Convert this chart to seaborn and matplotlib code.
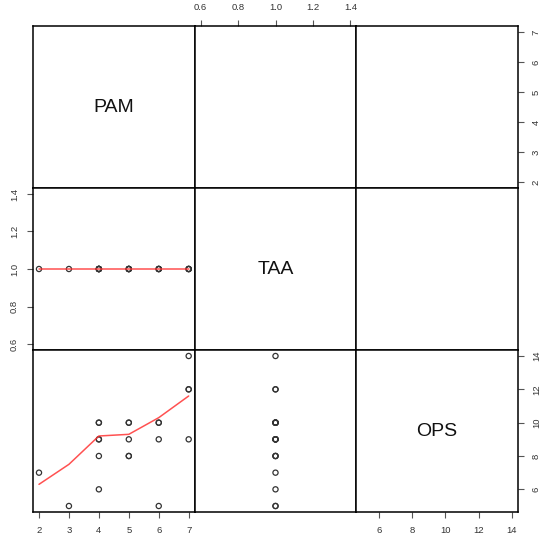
import matplotlib
matplotlib.use("Agg")
import matplotlib.pyplot as plt
import seaborn as sns
import pandas as pd
import numpy as np

sns.set_style("white")
plt.rcParams['font.family'] = ['Liberation Sans', 'DejaVu Sans']

# Data
var_names = ["PAM", "TAA", "OPS"]
PAM = [2, 3, 4, 4, 4, 4, 4, 4, 5, 5, 5, 5, 5, 6, 6, 6, 6, 7, 7, 7, 7]
TAA = [1.0] * 21
OPS = [7, 5, 10, 10, 9, 9, 8, 6, 10, 10, 9, 8, 8, 10, 10, 9, 5, 14, 12, 12, 9]

smooth_pam = [2, 3, 4, 5, 6, 7]
smooth_ops = [6.3, 7.5, 9.2, 9.3, 10.3, 11.6]
smooth_taa = [1.0, 1.0, 1.0, 1.0, 1.0, 1.0]

pam_ticks = [2, 3, 4, 5, 6, 7]
taa_ticks = [0.6, 0.8, 1.0, 1.2, 1.4]
ops_ticks = [6, 8, 10, 12, 14]
tick_labels = {
    "PAM": ["2", "3", "4", "5", "6", "7"],
    "TAA": ["0.6", "0.8", "1.0", "1.2", "1.4"],
    "OPS": ["6", "8", "10", "12", "14"],
}
ticks = {"PAM": pam_ticks, "TAA": taa_ticks, "OPS": ops_ticks}

df = pd.DataFrame({"PAM": PAM, "TAA": TAA, "OPS": OPS})
smooth = pd.DataFrame({"PAM": smooth_pam, "OPS": smooth_ops, "TAA": smooth_taa})

limits = {"PAM": (1.8, 7.2), "TAA": (0.568, 1.432), "OPS": (4.64, 14.36)}

W, H = 546, 541
fig = plt.figure(figsize=(W / 100, H / 100), dpi=100)
fig.patch.set_facecolor("white")

left, right, top, bottom = 33, 518, 26, 512
pw = (right - left) / 3
ph = (bottom - top) / 3

axes = {}
for r in range(3):
    for c in range(3):
        x0 = (left + c * pw) / W
        y0 = 1 - (top + (r + 1) * ph) / H
        ax = fig.add_axes([x0, y0, pw / W, ph / H])
        axes[(r, c)] = ax
        xv, yv = var_names[c], var_names[r]
        ax.set_xlim(*limits[xv])
        ax.set_ylim(*limits[yv])
        ax.set_xticks([])
        ax.set_yticks([])
        for s in ax.spines.values():
            s.set_visible(True)
            s.set_color("black")
            s.set_linewidth(1.1)
        ax.set_facecolor("white")
        if r == c:
            ax.text(0.5, 0.5, xv, transform=ax.transAxes, ha="center", va="center",
                    fontsize=14, color="#111111")
        elif r > c:
            sns.scatterplot(data=df, x=xv, y=yv, ax=ax, marker="o", s=14,
                            facecolor="none", edgecolor="#333333", linewidth=0.9,
                            legend=False)
            if xv != "TAA":
                sns.lineplot(data=smooth, x=xv, y=yv, ax=ax, color="#ff3333",
                             alpha=0.85, linewidth=1.1, legend=False, estimator=None)
        ax.set_xlabel("")
        ax.set_ylabel("")


def style_axis(ax, which, var):
    tk = ticks[var]
    lb = tick_labels[var]
    kw = dict(length=4, width=0.8, color="#555555", labelsize=6.8,
              labelcolor="#333333", pad=6, direction="out")
    if which in ("bottom", "top"):
        ax.set_xticks(tk)
        ax.set_xticklabels(lb)
        ax.tick_params(axis="x", bottom=(which == "bottom"), labelbottom=(which == "bottom"),
                       top=(which == "top"), labeltop=(which == "top"), **kw)
    else:
        ax.set_yticks(tk)
        ax.set_yticklabels(lb, rotation=90, va="center")
        ax.tick_params(axis="y", left=(which == "left"), labelleft=(which == "left"),
                       right=(which == "right"), labelright=(which == "right"), **kw)


style_axis(axes[(2, 0)], "bottom", "PAM")
style_axis(axes[(2, 2)], "bottom", "OPS")
style_axis(axes[(0, 1)], "top", "TAA")
style_axis(axes[(1, 0)], "left", "TAA")
style_axis(axes[(0, 2)], "right", "PAM")
style_axis(axes[(2, 2)], "right", "OPS")

fig.savefig("out.png", dpi=100, facecolor="white")
